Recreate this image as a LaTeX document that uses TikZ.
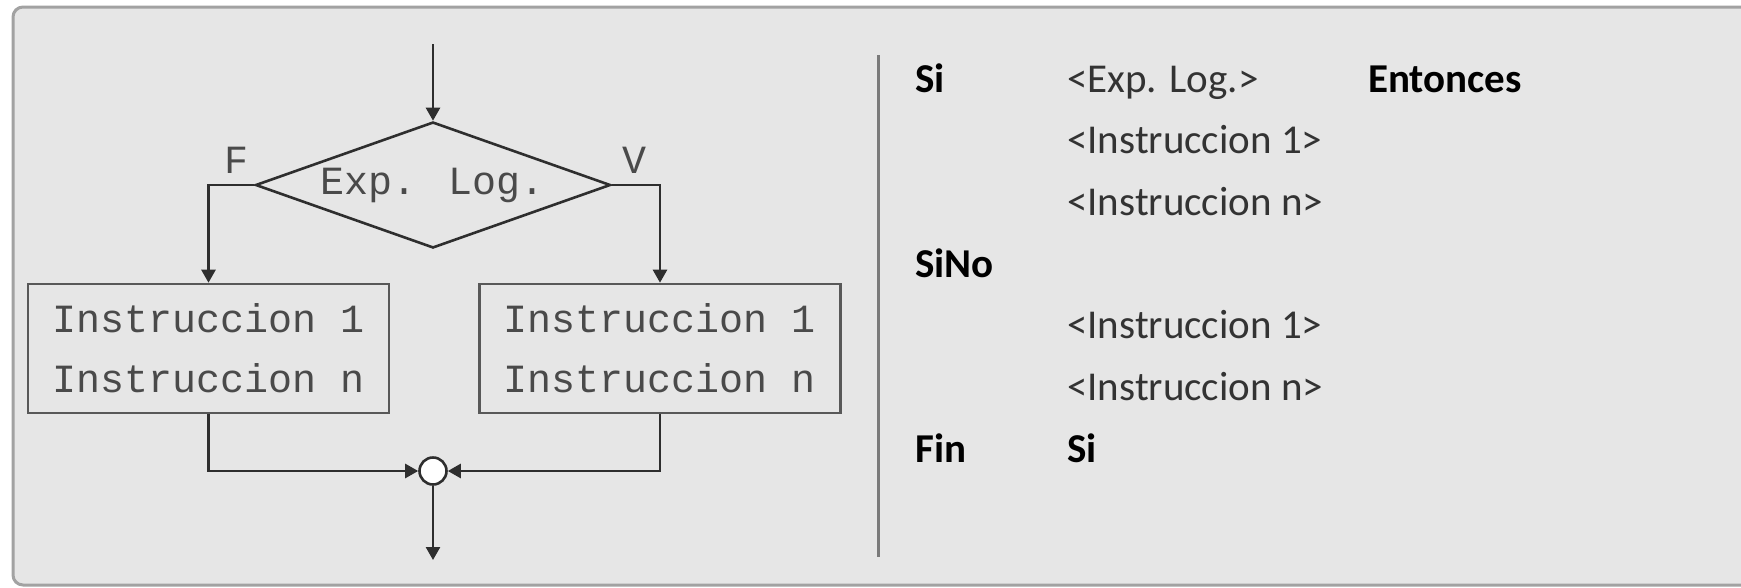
\documentclass[tikz,border=0pt]{standalone}
\usepackage{fontspec}
\setmainfont{Carlito}
\newfontfamily\courfont{Liberation Mono}
\usetikzlibrary{arrows.meta,shapes.geometric}

\definecolor{panelbg}{HTML}{E6E6E6}
\definecolor{panelframe}{HTML}{A2A2A2}
\definecolor{inkc}{HTML}{2E2E2E}
\definecolor{monotext}{HTML}{4A4A4A}
\definecolor{bodytext}{HTML}{333333}
\definecolor{rulec}{HTML}{7A7A7A}

\tikzset{
  flow/.style={draw=inkc, line width=2.6pt, -{Triangle[length=13pt,width=14pt]}},
  decision/.style={diamond, draw=inkc, line width=2.6pt, aspect=2.8,
    minimum width=355pt, minimum height=126pt, inner sep=0pt,
    font=\courfont\fontsize{40}{48}\selectfont, text=monotext},
  stepbox/.style={rectangle, draw=inkc!80, line width=2.6pt,
    minimum width=361pt, minimum height=129pt, inner sep=0pt, align=left,
    font=\courfont\fontsize{40}{60}\selectfont, text=monotext},
  joint/.style={circle, draw=inkc, line width=2.6pt, fill=white,
    minimum size=27pt, inner sep=0pt},
  branchlbl/.style={inner sep=0pt, anchor=base,
    font=\courfont\fontsize{40}{48}\selectfont, text=monotext},
  kw/.style={inner sep=0pt, anchor=base west,
    font=\bfseries\fontsize{41}{48}\selectfont, text=black},
  code/.style={inner sep=0pt, anchor=base west,
    font=\fontsize{41}{48}\selectfont, text=bodytext},
}

\begin{document}
\begin{tikzpicture}[x=1pt, y=-1pt]
  \useasboundingbox (0,0) rectangle (1741,587);
  \fill[white] (0,0) rectangle (1741,587);
  % panel: open on the right, so only three sides are stroked
  \fill[panelbg, rounded corners=10pt] (13,7) rectangle (1800,585);
  \fill[panelbg] (1700,7) rectangle (1741,585);
  \draw[panelframe, line width=3pt, rounded corners=10pt]
    (1741,7) -- (13,7) -- (13,585) -- (1741,585);

  % flowchart
  \coordinate (start) at (433,44);
  \node[decision] (d) at (433,185) {Exp. Log.};
  \node[stepbox] (b1) at (208.5,348.5) {Instruccion 1\\Instruccion n};
  \node[stepbox] (b2) at (660,348.5) {Instruccion 1\\Instruccion n};
  \node[joint] (m) at (433,471) {};
  \coordinate (end) at (433,560);

  \node[branchlbl] (f) at (236,173) {F};
  \node[branchlbl] (v) at (634,173) {V};

  \draw[flow] (start) -- (d.north);
  \draw[flow] (d.west) -| (b1.north);
  \draw[flow] (d.east) -| (b2.north);
  \draw[flow] (b1.south) |- (m.west);
  \draw[flow] (b2.south) |- (m.east);
  \draw[flow] (m.south) -- (end);

  % separator
  \coordinate (s1) at (878,55);
  \coordinate (s2) at (878,557);
  \draw[rulec, line width=3pt] (s1) -- (s2);

  % pseudocode
  \node[kw]   (si)   at (915,92)    {Si};
  \node[code] (exp)  at (1067,92)   {<Exp. Log.>};
  \node[kw]   (ent)  at (1368,92)   {Entonces};
  \node[code] (i1a)  at (1067,153.7) {<Instruccion 1>};
  \node[code] (ina)  at (1067,215.4) {<Instruccion n>};
  \node[kw]   (sino) at (915,277.1) {SiNo};
  \node[code] (i1b)  at (1067,338.8) {<Instruccion 1>};
  \node[code] (inb)  at (1067,400.5) {<Instruccion n>};
  \node[kw]   (fin)  at (915,462.2) {Fin};
  \node[kw]   (fsi)  at (1067,462.2) {Si};
\end{tikzpicture}
\end{document}
